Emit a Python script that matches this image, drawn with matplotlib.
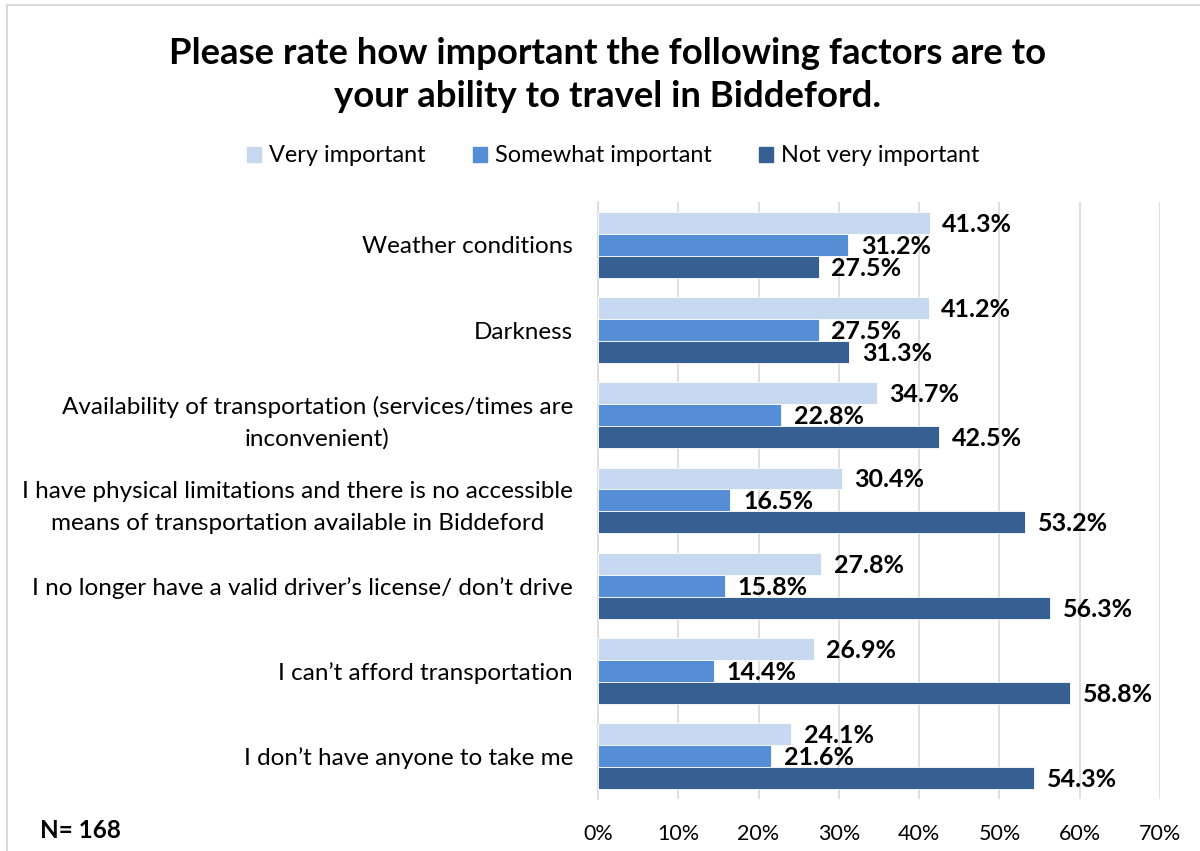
import matplotlib.pyplot as plt
from matplotlib.patches import Rectangle
from matplotlib.lines import Line2D
import numpy as np

plt.rcParams['font.family'] = ['Lato', 'DejaVu Sans']

categories = ['Weather conditions',
              'Darkness',
              'Availability of transportation (services/times are\ninconvenient)',
              'I have physical limitations and there is no accessible\nmeans of transportation available in Biddeford',
              'I no longer have a valid driver\u2019s license/ don\u2019t drive',
              'I can\u2019t afford transportation',
              'I don\u2019t have anyone to take me']
very = [41.3, 41.2, 34.7, 30.4, 27.8, 26.9, 24.1]
somewhat = [31.2, 27.5, 22.8, 16.5, 15.8, 14.4, 21.6]
not_very = [27.5, 31.3, 42.5, 53.2, 56.3, 58.8, 54.3]
series_names = ['Very important', 'Somewhat important', 'Not very important']
colors = ['#C6D9F1', '#558ED5', '#376092']

fig = plt.figure(figsize=(12, 8.51), dpi=100, facecolor='white')
ax = fig.add_axes([0.4983, 0.0616, 0.4684, 0.7006])

y = np.arange(len(categories))
h = 0.258
for k, (vals, c) in enumerate(zip([very, somewhat, not_very], colors)):
    pos = y + (k - 1) * h
    ax.barh(pos, vals, height=h, color=c, edgecolor='white', linewidth=0.6, zorder=3)
    for p, v in zip(pos, vals):
        ax.annotate(f'{v}%', (v, p), xytext=(9, -1), textcoords='offset points',
                    va='center', ha='left', fontsize=18, fontweight='bold', color='black')

ax.set_xlim(0, 70)
ax.set_ylim(len(categories) - 0.5, -0.5)
ax.set_xticks(np.arange(0, 71, 10))
ax.set_xticklabels([f'{t}%' for t in range(0, 71, 10)], fontsize=15.5)
ax.set_yticks(y)
ax.set_yticklabels(categories, fontsize=17.5, linespacing=1.62)
for lab in ax.get_yticklabels():
    lab.set_multialignment('center')
ax.tick_params(axis='y', length=0, pad=18)
ax.tick_params(axis='x', length=0, pad=18)
ax.grid(axis='x', color='#D9D9D9', linewidth=1.2, zorder=0)
for s in ['top', 'right', 'bottom']:
    ax.spines[s].set_visible(False)
ax.spines['left'].set_color('#D9D9D9')
ax.spines['left'].set_linewidth(1.2)

fig.text(0.506, 0.912, 'Please rate how important the following factors are to\nyour ability to travel in Biddeford.',
         ha='center', va='center', fontsize=26.3, fontweight='bold', linespacing=1.35)

handles = [Rectangle((0, 0), 1, 1, color=c) for c in colors]
fig.legend(handles, series_names, loc='center', bbox_to_anchor=(0.511, 1 - 156 / 851),
           ncol=3, frameon=False, fontsize=16.9, handlelength=0.6, handleheight=0.6,
           handletextpad=0.35, columnspacing=2.0)

fig.text(40 / 1200, 1 - 830 / 851, 'N= 168', ha='left', va='center', fontsize=17.5, fontweight='bold')

# outer chart border
fig.add_artist(Line2D([7 / 1200, 7 / 1200], [0, 1 - 5 / 851], transform=fig.transFigure,
                      color='#D9D9D9', linewidth=1.5))
fig.add_artist(Line2D([7 / 1200, 1], [1 - 5 / 851, 1 - 5 / 851], transform=fig.transFigure,
                      color='#D9D9D9', linewidth=1.5))

fig.savefig('out.png', dpi=100, facecolor='white')
